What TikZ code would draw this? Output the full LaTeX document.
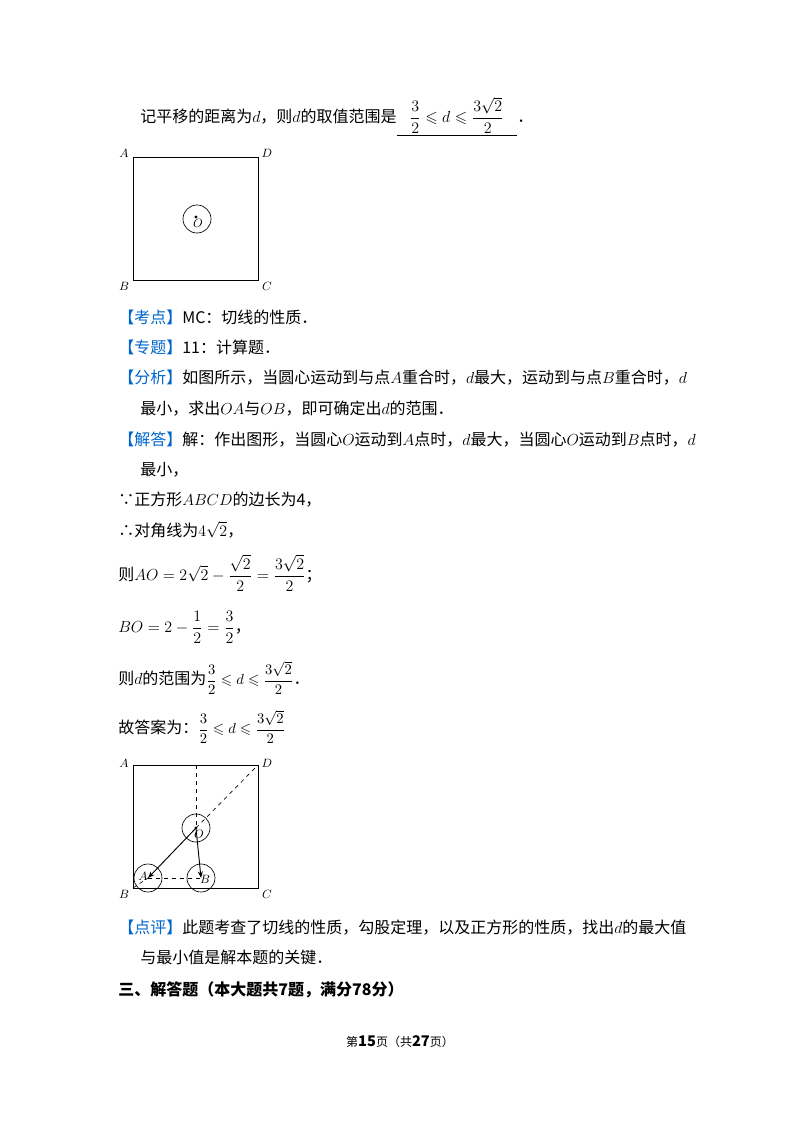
\documentclass[tikz,border=0pt]{standalone}
\usepackage{amsmath,amssymb}
\usepackage{fontspec}
\setmainfont{Noto Sans CJK SC}
\usetikzlibrary{arrows.meta}
\definecolor{kblue}{RGB}{0,102,204}
\newcommand{\kb}[1]{\textcolor{kblue}{【#1】}}
\tikzset{tx/.style={anchor=west,inner sep=0pt,font=\fontsize{12}{14}\selectfont},
 lab/.style={inner sep=0pt,font=\fontsize{9.5}{10}\selectfont},
 sq/.style={draw,line width=0.6pt},
 cir/.style={draw,line width=0.5pt},
 dsh/.style={draw,dashed,line width=0.5pt},
 arr/.style={draw,line width=0.7pt,-{Stealth[length=5pt]}}}
\begin{document}
\begin{tikzpicture}[x=0.75pt,y=-0.75pt]
\useasboundingbox[fill=white] (0,0) rectangle (800,1132);
\node[tx] (l1) at (140,117) {记平移的距离为$d$，则$d$的取值范围是\underline{\hspace{10pt}$\dfrac{3}{2}\leqslant d\leqslant\dfrac{3\sqrt{2}}{2}$\hspace{10pt}}．};
% figure 1
\coordinate (A1) at (133,157); \coordinate (D1) at (258,157);
\coordinate (B1) at (133,280); \coordinate (C1) at (258,280);
\draw[sq] (A1) -- (D1) -- (C1) -- (B1) -- cycle;
\node[lab] at (124,153) {$A$}; \node[lab] at (267,153) {$D$};
\node[lab] at (124,286) {$B$}; \node[lab] at (267,286) {$C$};
\node[cir,circle,minimum size=21pt,inner sep=0pt] (O1) at (197,219) {};
\fill (196,217) circle (1.2pt);
\node[lab] at (198,223) {$O$};
\node[tx] at (118,317) {\kb{考点}MC：切线的性质．};
\node[tx] at (118,347) {\kb{专题}11：计算题．};
\node[tx] at (118,378) {\kb{分析}如图所示，当圆心运动到与点$A$重合时，$d$最大，运动到与点$B$重合时，$d$};
\node[tx] at (140,409) {最小，求出$OA$与$OB$，即可确定出$d$的范围．};
\node[tx] at (118,440) {\kb{解答}解：作出图形，当圆心$O$运动到$A$点时，$d$最大，当圆心$O$运动到$B$点时，$d$};
\node[tx] at (140,470) {最小，};
\node[tx] at (118,500) {∵正方形$ABCD$的边长为4，};
\node[tx] at (118,530) {∴对角线为$4\sqrt{2}$，};
\node[tx] at (118,573) {则$AO=2\sqrt{2}-\dfrac{\sqrt{2}}{2}=\dfrac{3\sqrt{2}}{2}$；};
\node[tx] at (118,627) {$BO=2-\dfrac{1}{2}=\dfrac{3}{2}$，};
\node[tx] at (118,678) {则$d$的范围为{\fontsize{11}{12}\selectfont$\dfrac{3}{2}\leqslant d\leqslant\dfrac{3\sqrt{2}}{2}$}．};
\node[tx] at (118,727) {故答案为：{\fontsize{11}{12}\selectfont$\dfrac{3}{2}\leqslant d\leqslant\dfrac{3\sqrt{2}}{2}$}};
% figure 2
\coordinate (A2) at (133,765); \coordinate (D2) at (258,765);
\coordinate (B2) at (133,888); \coordinate (C2) at (258,888);
\coordinate (T2) at (196,765);
\draw[sq] (A2) -- (D2) -- (C2) -- (B2) -- cycle;
\node[lab] at (124,763) {$A$}; \node[lab] at (267,763) {$D$};
\node[lab] at (124,894) {$B$}; \node[lab] at (267,894) {$C$};
\coordinate (O2) at (196,828); \coordinate (Ap) at (148,878); \coordinate (Bp) at (201,878);
\draw[cir] (O2) circle (10.5pt); \draw[cir] (Ap) circle (10.5pt); \draw[cir] (Bp) circle (10.5pt);
\draw[dsh] (T2) -- (O2); \draw[dsh] (O2) -- (D2); \draw[dsh] (Ap) -- (Bp); \draw[dsh] (B2) -- (Ap);
\draw[arr] (O2) -- (Ap); \draw[arr] (O2) -- (Bp);
\fill (O2) circle (1.2pt);
\node[lab] at (199,834) {$O$}; \node[lab] at (143,876) {$A$}; \node[lab] at (205,879) {$B$};
\node[tx] at (118,928) {\kb{点评}此题考查了切线的性质，勾股定理，以及正方形的性质，找出$d$的最大值};
\node[tx] at (140,957) {与最小值是解本题的关键．};
\node[tx] at (118,990) {\bfseries 三、解答题（本大题共7题，满分78分）};
\node[inner sep=0pt,font=\fontsize{9}{10}\selectfont] at (400,1042) {第\textbf{\fontsize{11}{12}\selectfont 15}页（共\textbf{\fontsize{11}{12}\selectfont 27}页）};
\end{tikzpicture}
\end{document}
